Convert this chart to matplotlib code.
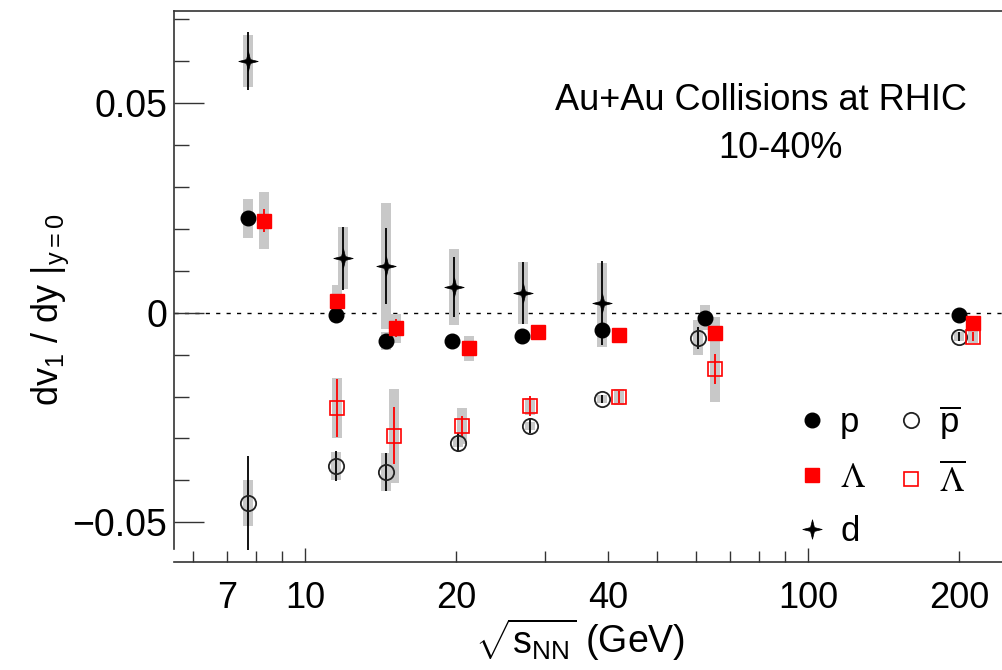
import numpy as np
import matplotlib
matplotlib.use('Agg')
import matplotlib.pyplot as plt
from matplotlib.path import Path
from matplotlib.ticker import FixedLocator, FixedFormatter, FuncFormatter

plt.rcParams['font.family'] = ['Liberation Sans', 'DejaVu Sans']
plt.rcParams['mathtext.fontset'] = 'custom'
plt.rcParams['mathtext.rm'] = 'Liberation Sans'
plt.rcParams['mathtext.it'] = 'Liberation Sans:italic'
plt.rcParams['mathtext.sf'] = 'Liberation Sans'
plt.rcParams['mathtext.bf'] = 'Liberation Sans:bold'

# ---- data ----
# protons
p_x = [7.7, 11.5, 14.5, 19.6, 27, 39, 62.4, 200]
p_y = [0.0225, -0.0006, -0.0068, -0.0068, -0.0056, -0.0041, -0.0012, -0.0006]
p_stat = [0.0008, 0.0008, 0.0008, 0.0008, 0.0008, 0.0008, 0.0008, 0.0005]
p_sys = [0.0046, 0.0016, 0.0022, 0.001, 0.001, 0.004, 0.003, 0.0005]

# anti-protons
pbar_x = [7.7, 11.5, 14.5, 20.1, 28.0, 39, 60.3, 200]
pbar_y = [-0.0454, -0.0366, -0.0380, -0.0310, -0.0270, -0.0206, -0.0060, -0.0057]
pbar_stat = [0.0112, 0.0036, 0.0046, 0.0023, 0.0018, 0.001, 0.0027, 0.001]
pbar_sys = [0.0054, 0.0034, 0.0045, 0.001, 0.001, 0.001, 0.0042, 0.001]

# Lambda
lam_x = [8.29, 11.6, 15.15, 21.2, 29.0, 42.1, 65.3, 213]
lam_y = [0.0220, 0.0029, -0.0037, -0.0085, -0.0047, -0.0052, -0.0048, -0.0025]
lam_stat = [0.0028, 0.001, 0.0022, 0.001, 0.001, 0.001, 0.0015, 0.001]
lam_sys = [0.0069, 0.0037, 0.0035, 0.003, 0.001, 0.001, 0.0037, 0.001]

# anti-Lambda
lbar_x = [11.6, 15.03, 20.55, 28.0, 42.1, 65.3, 213]
lbar_y = [-0.0227, -0.0294, -0.0271, -0.0223, -0.0201, -0.0134, -0.0057]
lbar_stat = [0.0069, 0.0068, 0.0025, 0.0024, 0.0015, 0.0035, 0.001]
lbar_sys = [0.0072, 0.0113, 0.0043, 0.002, 0.002, 0.008, 0.0015]

# deuterons
d_x = [7.7, 11.9, 14.5, 19.8, 27.1, 39]
d_y = [0.0601, 0.0130, 0.0112, 0.0061, 0.0046, 0.0024]
d_stat = [0.0069, 0.0075, 0.009, 0.0072, 0.0074, 0.0100]
d_sys = [0.0062, 0.0074, 0.015, 0.009, 0.0074, 0.0095]

xmaj = [10, 100]
xmin = [6, 7, 8, 9, 20, 30, 40, 50, 60, 70, 80, 90, 200]
xmin_labels = {7: '7', 20: '20', 40: '40', 200: '200'}
ymaj = [-0.05, 0, 0.05]
ymaj_labels = ['\u22120.05', '0', '0.05']

grey = '#c8c8c8'
red = '#ff0000'

# four pointed star for deuterons
s = 0.2
star = Path([(0, 1), (s, s), (1, 0), (s, -s), (0, -1), (-s, -s), (-1, 0), (-s, s), (0, 1)], closed=True)

fig = plt.figure(figsize=(10.02, 6.70), dpi=100)
ax = fig.add_axes([174/1002, 108/670, 828/1002, 551.3/670])
ax.set_xscale('log')
ax.set_xlim(5.49, 243)
ax.set_ylim(-0.0595, 0.0721)

ax.axhline(0, color='black', lw=1, ls=(0, (3, 4.5)), zorder=0.5)

def draw(x, y, stat, sys, col, ecol, marker, ms, mfc, mew):
    x = np.array(x); y = np.array(y)
    ax.vlines(x, y - np.array(sys), y + np.array(sys), colors=grey, lw=7.2, zorder=1)
    ax.errorbar(x, y, yerr=stat, fmt='none', ecolor=ecol, elinewidth=1.3, capsize=0, zorder=2)
    h, = ax.plot(x, y, ls='none', marker=marker, ms=ms, mfc=mfc, mec=col, mew=mew, zorder=3)
    return h

h_p = draw(p_x, p_y, p_stat, p_sys, 'black', 'black', 'o', 10.5, 'black', 1)
h_pbar = draw(pbar_x, pbar_y, pbar_stat, pbar_sys, '#222222', 'black', 'o', 11, 'none', 1.3)
h_lam = draw(lam_x, lam_y, lam_stat, lam_sys, red, red, 's', 10.5, red, 1)
h_lbar = draw(lbar_x, lbar_y, lbar_stat, lbar_sys, red, red, 's', 10.5, 'none', 1.2)
h_d = draw(d_x, d_y, d_stat, d_sys, 'black', 'black', star, 14, 'black', 0.5)

# axes styling
ax.spines['right'].set_visible(False)
for side in ['left', 'bottom', 'top']:
    ax.spines[side].set_linewidth(1.2)
    ax.spines[side].set_color('#333333')
ax.spines['left'].set_bounds(-0.0563, 0.0721)

ax.xaxis.set_major_locator(FixedLocator(xmaj))
ax.xaxis.set_major_formatter(FixedFormatter([str(v) for v in xmaj]))
ax.xaxis.set_minor_locator(FixedLocator(xmin))
ax.xaxis.set_minor_formatter(FuncFormatter(lambda v, pos: xmin_labels.get(int(round(v)), '')))
ax.yaxis.set_major_locator(FixedLocator(ymaj))
ax.yaxis.set_major_formatter(FixedFormatter(ymaj_labels))
ax.yaxis.set_minor_locator(FixedLocator([-0.04, -0.03, -0.02, -0.01, 0.01, 0.02, 0.03, 0.04, 0.06, 0.07]))

ax.tick_params(axis='y', which='major', direction='in', length=21.6, width=1, labelsize=27, pad=5, color='#333333')
ax.tick_params(axis='y', which='minor', direction='in', length=10.8, width=1, color='#333333')
ax.tick_params(axis='x', which='major', direction='in', length=10, width=1, labelsize=26, pad=14, color='#333333')
ax.tick_params(axis='x', which='minor', direction='in', length=7.7, width=1, labelsize=26, pad=14, color='#333333')
ax.tick_params(top=False, right=False, which='both')

fig.text(50/1002, 1 - 310/670, r'dv$_1$ / dy |$_{\mathrm{y=0}}$', rotation=90, ha='center', va='center', fontsize=26)
fig.text(580/1002, 1 - 640/670, r'$\sqrt{\mathrm{s}_{\mathrm{NN}}}$ (GeV)', ha='center', va='center', fontsize=27)

fig.text(761/1002, 1 - 100/670, 'Au+Au Collisions at RHIC', ha='center', va='center', fontsize=26)
fig.text(780/1002, 1 - 148/670, '10-40%', ha='center', va='center', fontsize=26)

leg = ax.legend([h_p, h_lam, h_d, h_pbar, h_lbar],
                ['p', r'$\Lambda$', 'd', r'$\overline{\mathrm{p}}$', r'$\overline{\Lambda}$'],
                ncol=2, frameon=False, fontsize=25, handlelength=1.0, handletextpad=0.3,
                columnspacing=0.8, labelspacing=0.62, borderpad=0, borderaxespad=0,
                loc='upper left', bbox_to_anchor=(795/1002, 1 - 403/670),
                bbox_transform=fig.transFigure)
for t in leg.get_texts():
    if 'Lambda' in t.get_text():
        t.set_math_fontfamily('stix')

fig.savefig('out.png', dpi=100)
